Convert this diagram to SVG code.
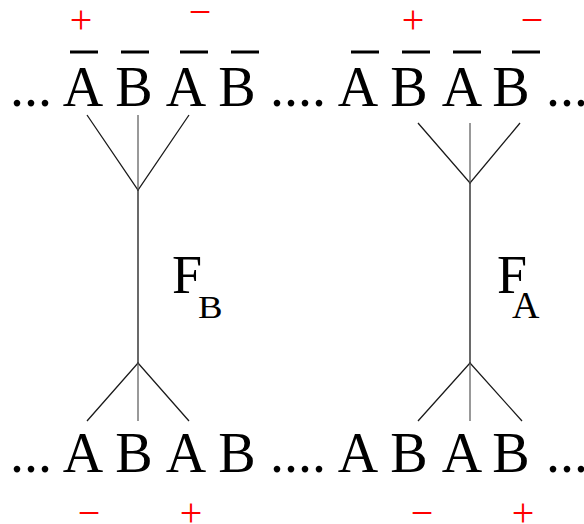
<svg xmlns="http://www.w3.org/2000/svg" width="584" height="524" viewBox="0 0 584 524">
  <style>
    .t { font-family: "Liberation Serif", "Times New Roman", serif; fill: #000; }
    .big { font-size: 56px; }
    .ch { text-anchor: middle; }
    .sgn { font-family: "Liberation Serif", "Times New Roman", serif; font-size: 40px; fill: #ff0000; text-anchor: middle; }
    .bar { stroke: #000; stroke-width: 3; }
    .edge { stroke: #1a1a1a; stroke-width: 1.3; fill: none; }
    .stem { stroke: #555; stroke-width: 1.2; fill: none; }
  </style>

  <!-- upper chain -->
  <g id="top-row" class="t big">
    <text x="10" y="106">...</text>
    <text class="ch" x="83" y="106">A</text>
    <text class="ch" x="134" y="106">B</text>
    <text class="ch" x="186" y="106">A</text>
    <text class="ch" x="237" y="106">B</text>
    <text x="270" y="106">....</text>
    <text class="ch" x="358" y="106">A</text>
    <text class="ch" x="409" y="106">B</text>
    <text class="ch" x="462" y="106">A</text>
    <text class="ch" x="511" y="106">B</text>
    <text x="546" y="106">...</text>
  </g>

  <!-- overbars -->
  <g id="bars" class="bar">
    <line x1="70" y1="52" x2="98" y2="52"/>
    <line x1="121" y1="52" x2="149" y2="52"/>
    <line x1="180" y1="52" x2="208" y2="52"/>
    <line x1="231" y1="52" x2="259" y2="52"/>
    <line x1="351" y1="52" x2="379" y2="52"/>
    <line x1="402" y1="52" x2="430" y2="52"/>
    <line x1="453" y1="52" x2="481" y2="52"/>
    <line x1="512" y1="52" x2="540" y2="52"/>
  </g>

  <!-- charges, upper -->
  <g id="top-signs" class="sgn">
    <text x="81" y="33">+</text>
    <text x="200" y="25">−</text>
    <text x="413" y="33">+</text>
    <text x="532" y="33">−</text>
  </g>

  <!-- lower chain -->
  <g id="bottom-row" class="t big">
    <text x="10" y="472">...</text>
    <text class="ch" x="83" y="472">A</text>
    <text class="ch" x="134" y="472">B</text>
    <text class="ch" x="186" y="472">A</text>
    <text class="ch" x="237" y="472">B</text>
    <text x="270" y="472">....</text>
    <text class="ch" x="358" y="472">A</text>
    <text class="ch" x="409" y="472">B</text>
    <text class="ch" x="462" y="472">A</text>
    <text class="ch" x="511" y="472">B</text>
    <text x="546" y="472">...</text>
  </g>

  <!-- charges, lower -->
  <g id="bottom-signs" class="sgn">
    <text x="89" y="526">−</text>
    <text x="191" y="526">+</text>
    <text x="422" y="526">−</text>
    <text x="523" y="526">+</text>
  </g>

  <!-- exchange lines -->
  <g id="connectors">
    <g id="tree-B">
      <polyline class="edge" points="87,115 138,190 189,115"/>
      <line class="stem" x1="138" y1="115" x2="138" y2="190"/>
      <line class="edge" x1="138" y1="190" x2="138" y2="363"/>
      <polyline class="edge" points="87,421 138,363 189,421"/>
      <line class="stem" x1="138" y1="363" x2="138" y2="421"/>
    </g>
    <g id="tree-A">
      <polyline class="edge" points="418,123 470,183 520,123"/>
      <line class="stem" x1="470" y1="123" x2="470" y2="183"/>
      <line class="edge" x1="470" y1="183" x2="470" y2="363"/>
      <polyline class="edge" points="418,421 470,363 522,421"/>
      <line class="stem" x1="470" y1="363" x2="470" y2="421"/>
    </g>
  </g>

  <!-- labels -->
  <g id="label-FB" class="t">
    <text x="172" y="293" font-size="54">F</text>
    <text transform="translate(198,318) scale(1.15,1)" font-size="32">B</text>
  </g>
  <g id="label-FA" class="t">
    <text x="497" y="293" font-size="54">F</text>
    <text x="512" y="318" font-size="38">A</text>
  </g>
</svg>
